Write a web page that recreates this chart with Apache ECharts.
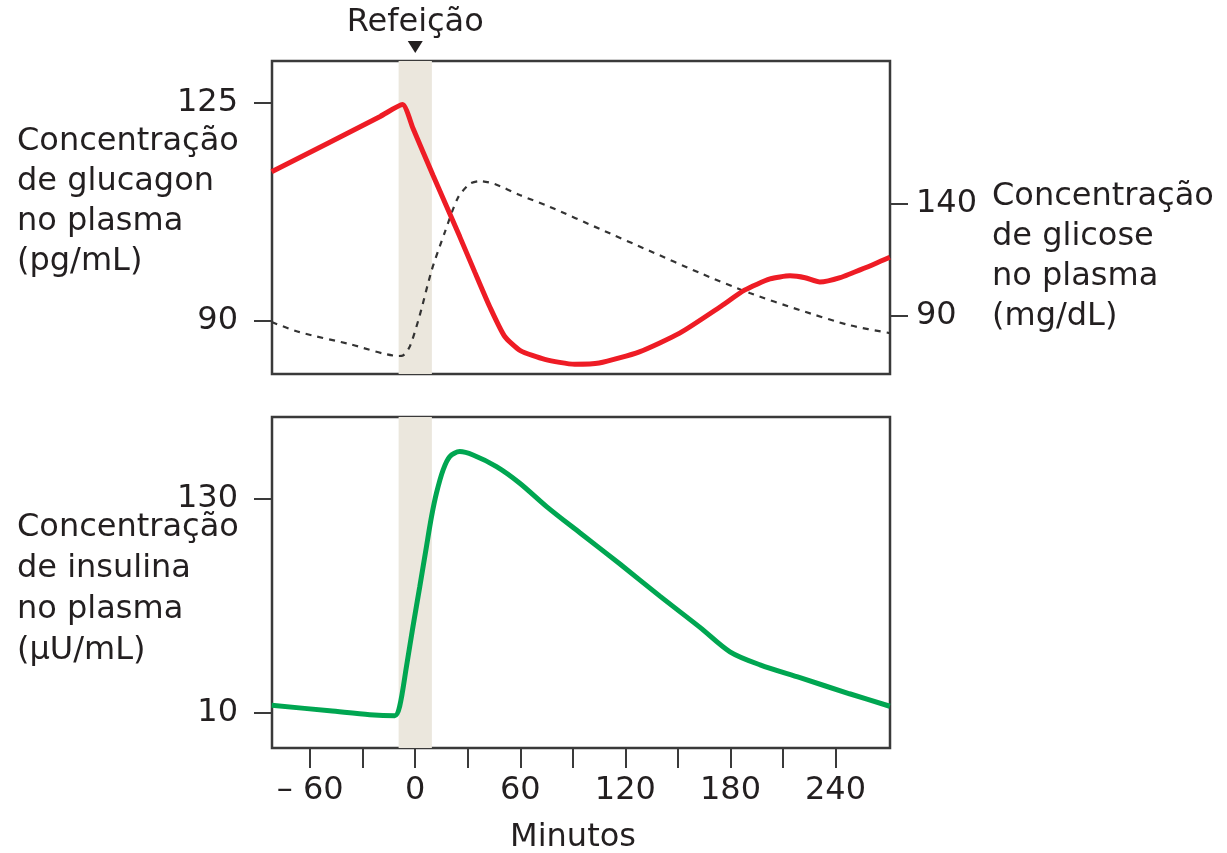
<!DOCTYPE html>
<html>
<head>
<meta charset="utf-8">
<script src="https://cdn.jsdelivr.net/npm/echarts@6/dist/echarts.min.js"></script>
<style>
  html, body { margin: 0; padding: 0; background: #fff; }
  #chart { width: 1227px; height: 853px; }
</style>
</head>
<body>
<div id="chart"></div>
<script>
// minutos relativos à refeição
const glucagonMinutes = [-82, -20, -7.3, -1.3, 10.2, 25.4, 34, 42.6, 51, 60, 74, 91, 105, 128, 151, 174, 188, 202.6, 214, 222.6, 231, 242.6, 257, 271];
const glucagonValues  = [113.9, 122.8, 124.7, 120.9, 113.3, 103.5, 97.8, 92.2, 87.5, 85.2, 83.8, 83.0, 83.2, 85, 88, 92.2, 94.9, 96.7, 97.2, 96.9, 96.2, 96.9, 98.5, 100.2];

const glucoseMinutes = [-82, -66, -37.4, -9.4, -7, -3, 2.6, 9.4, 16.9, 24.3, 31, 36.9, 45.4, 59.7, 76.9, 105.4, 134, 162.6, 191, 219.7, 248, 271];
const glucoseValues  = [87.2, 82.7, 77.4, 72.1, 72.3, 76.5, 90.3, 110.3, 127.2, 142.4, 148.6, 149.9, 148.6, 143.7, 138.4, 128.6, 118.8, 109, 100.1, 92.5, 85.8, 82.3];

const insulinMinutes = [-82, -48.9, -26, -11.7, -8.9, -5, -1.3, 2.6, 6.4, 9.3, 12.1, 15.9, 19.7, 25.4, 33, 46.4, 59.7, 75, 94, 116.9, 139.7, 162.6, 179.7, 196.9, 219.7, 248, 271];
const insulinValues  = [14.3, 11.3, 9.1, 8.5, 13.7, 36.1, 58.5, 80.9, 103.3, 120.1, 133.2, 146.2, 153.7, 156.5, 154.6, 148.1, 138.8, 125.7, 111.0, 93.5, 75.5, 58.0, 44.3, 37, 29.8, 20.8, 13.8];

const mealWindow = [-9.5, 9.5];
const xTicks = [-60, -30, 0, 30, 60, 90, 120, 150, 180, 210, 240];
const xLabels = [-60, 0, 60, 120, 180, 240];
const glucagonTicks = [90, 125];
const glucoseTicks = [90, 140];
const insulinTicks = [10, 130];

const zip = (xs, ys) => xs.map((x, i) => [x, ys[i]]);

const FONT = 'DejaVu Sans';
const FS = 32;
const TXT = '#231f20';
const FRAME = '#3a3a3a';

const chart = echarts.init(document.getElementById('chart'));

const xAxisBase = {
    type: 'value',
    min: -81.8,
    max: 271.1,
    splitLine: { show: false },
    axisLine: { show: false, onZero: false }
};

const yBase = (ticks, min, max, pos, margin) => ({
    type: 'value',
    min: min,
    max: max,
    position: pos,
    splitLine: { show: false },
    axisLine: { show: false, onZero: false },
    axisTick: { show: true, customValues: ticks, length: 18, lineStyle: { color: FRAME, width: 2 } },
    axisLabel: { customValues: ticks, margin: margin, color: TXT, fontFamily: FONT, fontSize: FS }
});

const band = {
    silent: true,
    label: { show: false },
    itemStyle: { color: '#ebe7dd' },
    data: [[{ xAxis: mealWindow[0] }, { xAxis: mealWindow[1] }]]
};

const option = {
    animation: false,
    backgroundColor: '#fff',
    grid: [
        { left: 272, top: 61, width: 618, height: 313, show: true, borderColor: FRAME, borderWidth: 2.5, backgroundColor: 'transparent' },
        { left: 272, top: 417, width: 618, height: 331, show: true, borderColor: FRAME, borderWidth: 2.5, backgroundColor: 'transparent' }
    ],
    xAxis: [
        Object.assign({}, xAxisBase, { gridIndex: 0, axisTick: { show: false }, axisLabel: { show: false } }),
        Object.assign({}, xAxisBase, {
            gridIndex: 1,
            axisTick: { show: true, customValues: xTicks, length: 20, lineStyle: { color: FRAME, width: 2 } },
            axisLabel: {
                customValues: xLabels,
                margin: 27,
                color: TXT, fontFamily: FONT, fontSize: FS,
                formatter: v => v < 0 ? '– ' + Math.abs(v) : String(v)
            }
        })
    ],
    yAxis: [
        Object.assign(yBase(glucagonTicks, 81.44, 131.7, 'left', 34), { gridIndex: 0 }),
        Object.assign(yBase(glucoseTicks, 64.1, 203.3, 'right', 26), { gridIndex: 0 }),
        Object.assign(yBase(insulinTicks, -9.6, 175.9, 'left', 34), { gridIndex: 1 })
    ],
    graphic: [
        { type: 'text', left: 17, top: 122, style: { text: 'Concentração\nde glucagon\nno plasma\n(pg/mL)', font: FS + 'px "DejaVu Sans"', fill: TXT, lineHeight: 40 } },
        { type: 'text', left: 992, top: 177, style: { text: 'Concentração\nde glicose\nno plasma\n(mg/dL)', font: FS + 'px "DejaVu Sans"', fill: TXT, lineHeight: 40 } },
        { type: 'text', left: 17, top: 507, style: { text: 'Concentração\nde insulina\nno plasma\n(µU/mL)', font: FS + 'px "DejaVu Sans"', fill: TXT, lineHeight: 41 } },
        { type: 'text', x: 573, y: 838, style: { text: 'Minutos', font: FS + 'px "DejaVu Sans"', fill: TXT, align: 'center', verticalAlign: 'middle' } }
    ],
    series: [
        {
            name: 'Glicose',
            type: 'line',
            xAxisIndex: 0, yAxisIndex: 1,
            data: zip(glucoseMinutes, glucoseValues),
            smooth: 0.25,
            symbol: 'none',
            lineStyle: { color: '#333', width: 2.2, type: [6, 6] },
            markArea: band
        },
        {
            name: 'Glucagon',
            type: 'line',
            xAxisIndex: 0, yAxisIndex: 0,
            data: zip(glucagonMinutes, glucagonValues),
            smooth: 0.2,
            symbol: 'none',
            lineStyle: { color: '#ee1c25', width: 5 },
            markPoint: {
                silent: true,
                symbol: 'triangle',
                symbolRotate: 180,
                symbolSize: [15, 12],
                symbolOffset: [0, -14],
                itemStyle: { color: '#231f20' },
                label: {
                    show: true,
                    position: 'top',
                    distance: 2,
                    formatter: 'Refeição',
                    color: TXT, fontFamily: FONT, fontSize: FS
                },
                data: [{ coord: [0, 131.7] }]
            }
        },
        {
            name: 'Insulina',
            type: 'line',
            xAxisIndex: 1, yAxisIndex: 2,
            data: zip(insulinMinutes, insulinValues),
            smooth: 0.3,
            symbol: 'none',
            lineStyle: { color: '#00a651', width: 5 },
            markArea: band
        }
    ]
};

chart.setOption(option);
</script>
</body>
</html>
